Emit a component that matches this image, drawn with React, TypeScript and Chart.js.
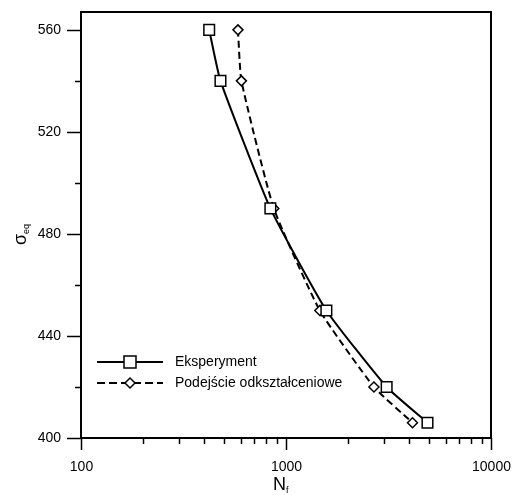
import React, { useEffect, useRef } from "react";
import { Chart, registerables } from "chart.js";

Chart.register(...registerables);

const expN = [422, 479, 839, 1574, 3097, 4900];
const expS = [560, 540, 490, 450, 420, 406];
const modN = [583, 606, 872, 1462, 2685, 4140];
const modS = [560, 540, 490, 450, 420, 406];
const yTicks = [400, 420, 440, 460, 480, 500, 520, 540, 560];
const yLabels = [400, 440, 480, 520, 560];
const xMajor = [100, 1000, 10000];
const xLabels = ["100", "1000", "10000"];
const seriesNames = ["Eksperyment", "Podejście odkształceniowe"];

const FONT = "Liberation Sans, Arial, sans-serif";

const framePlugin = {
  id: "frame",
  afterDatasetsDraw(chart: any) {
    const { ctx, chartArea: a, scales } = chart;
    const xs = scales.x;
    const ys = scales.y;
    ctx.save();
    ctx.strokeStyle = "#000";
    ctx.fillStyle = "#000";
    // frame
    ctx.lineWidth = 2;
    ctx.beginPath();
    ctx.rect(a.left, a.top, a.right - a.left, a.bottom - a.top);
    ctx.stroke();
    // y ticks
    ctx.lineWidth = 1.5;
    ctx.font = `14px ${FONT}`;
    ctx.textAlign = "right";
    ctx.textBaseline = "middle";
    yTicks.forEach((v) => {
      const y = Math.round(ys.getPixelForValue(v)) + 0.5;
      const major = yLabels.includes(v);
      ctx.beginPath();
      ctx.moveTo(a.left - (major ? 14 : 6), y);
      ctx.lineTo(a.left, y);
      ctx.stroke();
      if (major) ctx.fillText(String(v), a.left - 20, y);
    });
    // x ticks
    ctx.textAlign = "center";
    ctx.textBaseline = "top";
    for (let d = 100; d < 10000; d *= 10) {
      for (let k = 2; k <= 9; k++) {
        const x = Math.round(xs.getPixelForValue(d * k)) + 0.5;
        ctx.beginPath();
        ctx.moveTo(x, a.bottom);
        ctx.lineTo(x, a.bottom + 6);
        ctx.stroke();
      }
    }
    xMajor.forEach((v, i) => {
      const x = Math.round(xs.getPixelForValue(v)) + 0.5;
      ctx.beginPath();
      ctx.moveTo(x, a.bottom);
      ctx.lineTo(x, a.bottom + 12);
      ctx.stroke();
      ctx.fillText(xLabels[i], x, a.bottom + 22);
    });
    // x title N_f
    ctx.textAlign = "left";
    ctx.textBaseline = "alphabetic";
    ctx.font = `18px ${FONT}`;
    ctx.fillText("N", 273, 490);
    ctx.font = `9px ${FONT}`;
    ctx.fillText("f", 286, 493);
    // y title sigma_eq
    ctx.save();
    ctx.translate(26, 245);
    ctx.rotate(-Math.PI / 2);
    ctx.font = `18px ${FONT}`;
    ctx.fillText("σ", 0, 0);
    ctx.font = `9px ${FONT}`;
    ctx.fillText("eq", 11, 3);
    ctx.restore();
    // legend
    const rows = [
      { y: 362, dash: [] as number[], style: "rect", r: 8 },
      { y: 383, dash: [8, 4], style: "rectRot", r: 5 },
    ];
    rows.forEach((row, i) => {
      ctx.lineWidth = 2;
      ctx.setLineDash(row.dash);
      ctx.beginPath();
      ctx.moveTo(97, row.y);
      ctx.lineTo(163, row.y);
      ctx.stroke();
      ctx.setLineDash([]);
      ctx.fillStyle = "#fff";
      ctx.lineWidth = 1.5;
      ctx.beginPath();
      if (row.style === "rect") {
        ctx.rect(124, row.y - 6, 12, 12);
      } else {
        ctx.moveTo(130, row.y - row.r);
        ctx.lineTo(130 + row.r, row.y);
        ctx.lineTo(130, row.y + row.r);
        ctx.lineTo(130 - row.r, row.y);
        ctx.closePath();
      }
      ctx.fill();
      ctx.stroke();
      ctx.fillStyle = "#000";
      ctx.font = `14px ${FONT}`;
      ctx.textBaseline = "middle";
      ctx.textAlign = "left";
      ctx.fillText(seriesNames[i], 175, row.y);
    });
    ctx.restore();
  },
};

export default function App() {
  const ref = useRef<HTMLCanvasElement>(null);
  useEffect(() => {
    if (!ref.current) return;
    const chart = new Chart(ref.current, {
      type: "line",
      data: {
        datasets: [
          {
            label: seriesNames[0],
            data: expN.map((n, i) => ({ x: n, y: expS[i] })),
            borderColor: "#000",
            borderWidth: 2,
            backgroundColor: "#fff",
            pointStyle: "rect",
            pointRadius: 7.5,
            pointBorderWidth: 1.5,
            pointBorderColor: "#000",
            pointBackgroundColor: "#fff",
            tension: 0.15,
            clip: false as any,
          },
          {
            label: seriesNames[1],
            data: modN.map((n, i) => ({ x: n, y: modS[i] })),
            borderColor: "#000",
            borderWidth: 2,
            borderDash: [7, 4],
            backgroundColor: "#fff",
            pointStyle: "rectRot",
            pointRadius: 5,
            pointBorderWidth: 1.5,
            pointBorderColor: "#000",
            pointBackgroundColor: "#fff",
            tension: 0.15,
            clip: false as any,
          },
        ],
      },
      options: {
        animation: false,
        responsive: false,
        layout: { padding: { left: 81, right: 28, top: 12, bottom: 57 } },
        plugins: { legend: { display: false }, tooltip: { enabled: false } },
        scales: {
          x: { type: "logarithmic", min: 100, max: 10000, display: false },
          y: { type: "linear", min: 400, max: 567, display: false },
        },
      },
      plugins: [framePlugin],
    });
    return () => chart.destroy();
  }, []);
  return (
    <div style={{ position: "fixed", left: 0, top: 0, width: 519, height: 495, background: "#fff" }}>
      <canvas ref={ref} width={519} height={495} style={{ width: 519, height: 495 }} />
    </div>
  );
}
